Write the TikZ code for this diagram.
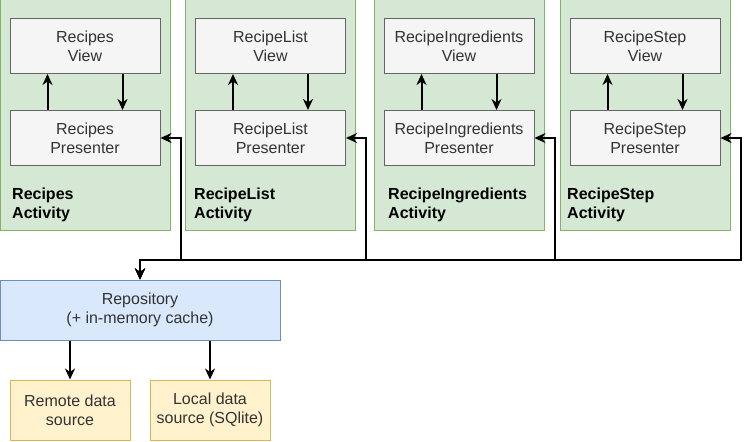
\documentclass[tikz,border=0pt]{standalone}
\usepackage{fontspec}
\setmainfont{Liberation Sans}
\usepackage{xcolor}
\usepackage{tikz}
\usetikzlibrary{arrows.meta}
\usetikzlibrary{positioning}
\definecolor{actfill}{HTML}{D5E8D4}
\definecolor{actdraw}{HTML}{82B366}
\definecolor{boxfill}{HTML}{F5F5F5}
\definecolor{boxdraw}{HTML}{666666}
\definecolor{boxtext}{HTML}{333333}
\definecolor{repofill}{HTML}{DAE8FC}
\definecolor{repodraw}{HTML}{6C8EBF}
\definecolor{srcfill}{HTML}{FFF2CC}
\definecolor{srcdraw}{HTML}{D6B656}
\tikzset{
activity/.style = { rectangle, draw = actdraw, fill = actfill, line width = 1pt, minimum width = 170pt, minimum height = 230pt },
mvp/.style = { rectangle, draw = boxdraw, fill = boxfill, text = boxtext, line width = 1pt, minimum width = 150pt, minimum height = 55pt, align = center, font = \fontsize{16}{19}\selectfont },
repo/.style = { rectangle, draw = repodraw, fill = repofill, text = boxtext, line width = 1pt, minimum width = 280pt, minimum height = 60pt, align = center, font = \fontsize{16}{19}\selectfont },
source/.style = { rectangle, draw = srcdraw, fill = srcfill, text = boxtext, line width = 1pt, minimum width = 120pt, minimum height = 60pt, align = center, font = \fontsize{16}{19}\selectfont },
actlabel/.style = { anchor = west, inner sep = 0pt, align = left, font = \fontsize{16}{19}\selectfont\bfseries },
arr/.style = { -{Stealth[length = 11pt, width = 10pt, inset = 3.5pt]}, line width = 2pt },
link/.style = { {Stealth[length = 11pt, width = 10pt, inset = 3.5pt]}-{Stealth[length = 11pt, width = 10pt, inset = 3.5pt]}, line width = 2pt },
}
\begin{document}
\begin{tikzpicture}[x = 1pt, y = -1pt]
    \useasboundingbox (0, 0) rectangle (751, 441);
    % activities
    \node[activity] (a1) at (85, 115) {};
    \node[activity] (a2) at (270.5, 115) {};
    \node[activity] (a3) at (459, 115) {};
    \node[activity] (a4) at (645.5, 115) {};
    \node[actlabel] (l1) at (12, 205) {Recipes\\Activity};
    \node[actlabel] (l2) at (194, 205) {RecipeList\\Activity};
    \node[actlabel] (l3) at (388, 205) {RecipeIngredients\\Activity};
    \node[actlabel] (l4) at (567, 205) {RecipeStep\\Activity};
    % views and presenters
    \node[mvp] (v1) at (85, 46) {Recipes\\View};
    \node[mvp] (p1) at (85, 138) {Recipes\\Presenter};
    \node[mvp] (v2) at (270.5, 46) {RecipeList\\View};
    \node[mvp] (p2) at (270.5, 138) {RecipeList\\Presenter};
    \node[mvp] (v3) at (459, 46) {RecipeIngredients\\View};
    \node[mvp] (p3) at (459, 138) {RecipeIngredients\\Presenter};
    \node[mvp] (v4) at (645, 46) {RecipeStep\\View};
    \node[mvp] (p4) at (645, 138) {RecipeStep\\Presenter};
    \draw[arr] ([xshift = -37.5pt]p1.north) -- ([xshift = -37.5pt]v1.south);
    \draw[arr] ([xshift = 37.5pt]v1.south) -- ([xshift = 37.5pt]p1.north);
    \draw[arr] ([xshift = -37.5pt]p2.north) -- ([xshift = -37.5pt]v2.south);
    \draw[arr] ([xshift = 37.5pt]v2.south) -- ([xshift = 37.5pt]p2.north);
    \draw[arr] ([xshift = -37.5pt]p3.north) -- ([xshift = -37.5pt]v3.south);
    \draw[arr] ([xshift = 37.5pt]v3.south) -- ([xshift = 37.5pt]p3.north);
    \draw[arr] ([xshift = -37.5pt]p4.north) -- ([xshift = -37.5pt]v4.south);
    \draw[arr] ([xshift = 37.5pt]v4.south) -- ([xshift = 37.5pt]p4.north);
    % data layer
    \node[repo] (repo) at (140, 310) {Repository\\(+ in-memory cache)};
    \node[source] (remote) at (70, 410) {Remote data\\source};
    \node[source] (local) at (210, 410) {Local data\\source (SQlite)};
    \draw[arr] (remote.north |- repo.south) -- (remote.north);
    \draw[arr] (local.north |- repo.south) -- (local.north);
    \coordinate (bus) at (140, 260);
    \draw[link] (repo.north) -- (bus) -| ([xshift = 20pt]p1.east) -- (p1.east);
    \draw[link] (repo.north) -- (bus) -| ([xshift = 20pt]p2.east) -- (p2.east);
    \draw[link] (repo.north) -- (bus) -| ([xshift = 20pt]p3.east) -- (p3.east);
    \draw[link] (repo.north) -- (bus) -| ([xshift = 20pt]p4.east) -- (p4.east);
\end{tikzpicture}
\end{document}
